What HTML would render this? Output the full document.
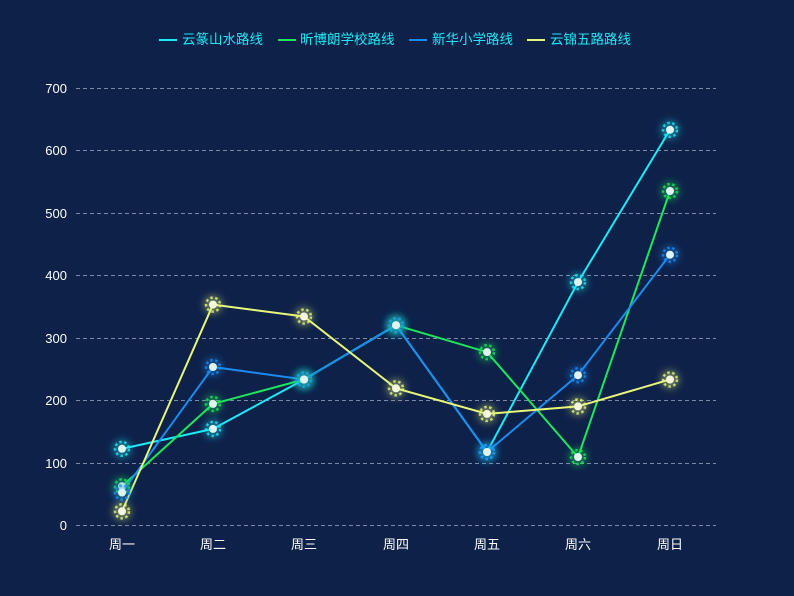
<!DOCTYPE html>
<html><head><meta charset="utf-8"><style>
html,body{margin:0;padding:0;background:#0e2149;}
svg{display:block;font-family:"Liberation Sans","Noto Sans CJK SC",sans-serif;}
</style></head><body>
<svg width="794" height="596" viewBox="0 0 794 596" xmlns="http://www.w3.org/2000/svg">
<defs>
<filter id="b" x="-2" y="-2" width="5" height="5"><feGaussianBlur stdDeviation="4"/></filter>
<g id="mc"><circle r="9" fill="#1de9f6" opacity="0.45" filter="url(#b)"/><circle r="7" fill="none" stroke="#1de9f6" stroke-width="2.5" stroke-dasharray="2.5,2.5" opacity="0.8"/><circle r="4" fill="#dff4f0"/></g>
<g id="mg"><circle r="9" fill="#1ce65a" opacity="0.45" filter="url(#b)"/><circle r="7" fill="none" stroke="#1ce65a" stroke-width="2.5" stroke-dasharray="2.5,2.5" opacity="0.8"/><circle r="4" fill="#dff4f0"/></g>
<g id="mb"><circle r="9" fill="#1a8cf0" opacity="0.45" filter="url(#b)"/><circle r="7" fill="none" stroke="#1a8cf0" stroke-width="2.5" stroke-dasharray="2.5,2.5" opacity="0.8"/><circle r="4" fill="#dff4f0"/></g>
<g id="my"><circle r="9" fill="#e6f77a" opacity="0.45" filter="url(#b)"/><circle r="7" fill="none" stroke="#e6f77a" stroke-width="2.5" stroke-dasharray="2.5,2.5" opacity="0.8"/><circle r="4" fill="#f4f7dc"/></g>
</defs>
<rect width="794" height="596" fill="#0e2149"/>
<g stroke="#7d8aa6" stroke-dasharray="4,3" stroke-width="1">
<line x1="76" x2="716" y1="88.5" y2="88.5"/><line x1="76" x2="716" y1="150.5" y2="150.5"/>
<line x1="76" x2="716" y1="213.5" y2="213.5"/><line x1="76" x2="716" y1="275.5" y2="275.5"/>
<line x1="76" x2="716" y1="338.5" y2="338.5"/><line x1="76" x2="716" y1="400.5" y2="400.5"/>
<line x1="76" x2="716" y1="463.5" y2="463.5"/><line x1="76" x2="716" y1="525.5" y2="525.5"/>
</g>
<g fill="#fff" font-size="13" text-anchor="end">
<text x="67" y="93">700</text><text x="67" y="155">600</text><text x="67" y="218">500</text>
<text x="67" y="280">400</text><text x="67" y="343">300</text><text x="67" y="405">200</text>
<text x="67" y="468">100</text><text x="67" y="530">0</text>
</g>
<g fill="#fff" font-size="13" text-anchor="middle">
<text x="122" y="549">周一</text><text x="213" y="549">周二</text><text x="304" y="549">周三</text>
<text x="396" y="549">周四</text><text x="487" y="549">周五</text><text x="578" y="549">周六</text><text x="670" y="549">周日</text>
</g>
<g font-size="13.5" fill="#1de9f6">
<line x1="159" x2="177" y1="40" y2="40" stroke="#1de9f6" stroke-width="2"/><text x="182" y="44">云篆山水路线</text>
<line x1="278" x2="296" y1="40" y2="40" stroke="#1ce65a" stroke-width="2"/><text x="300" y="44">昕博朗学校路线</text>
<line x1="409" x2="427" y1="40" y2="40" stroke="#1a8cf0" stroke-width="2"/><text x="432" y="44">新华小学路线</text>
<line x1="527" x2="545" y1="40" y2="40" stroke="#e6f77a" stroke-width="2"/><text x="550" y="44">云锦五路路线</text>
</g>
<g fill="none" stroke-width="2">
<polyline stroke="#1de9f6" points="122,448.8 213,428.9 304,379.5 396,325.2 487,452 578,282.1 670,129.8"/>
<polyline stroke="#1ce65a" points="122,486.3 213,403.9 304,379.5 396,325.2 487,352.1 578,457 670,191"/>
<polyline stroke="#1a8cf0" points="122,492.5 213,367 304,379.5 396,325.2 487,452 578,375.2 670,254.7"/>
<polyline stroke="#e6f77a" points="122,511.3 213,304.6 304,316.5 396,388.3 487,413.9 578,406.4 670,379.5"/>
</g>
<use href="#mc" x="122" y="448.8"/><use href="#mc" x="213" y="428.9"/><use href="#mc" x="304" y="379.5"/><use href="#mc" x="396" y="325.2"/><use href="#mc" x="487" y="452"/><use href="#mc" x="578" y="282.1"/><use href="#mc" x="670" y="129.8"/>
<use href="#mg" x="122" y="486.3"/><use href="#mg" x="213" y="403.9"/><use href="#mg" x="304" y="379.5"/><use href="#mg" x="396" y="325.2"/><use href="#mg" x="487" y="352.1"/><use href="#mg" x="578" y="457"/><use href="#mg" x="670" y="191"/>
<use href="#mb" x="122" y="492.5"/><use href="#mb" x="213" y="367"/><use href="#mb" x="304" y="379.5"/><use href="#mb" x="396" y="325.2"/><use href="#mb" x="487" y="452"/><use href="#mb" x="578" y="375.2"/><use href="#mb" x="670" y="254.7"/>
<use href="#my" x="122" y="511.3"/><use href="#my" x="213" y="304.6"/><use href="#my" x="304" y="316.5"/><use href="#my" x="396" y="388.3"/><use href="#my" x="487" y="413.9"/><use href="#my" x="578" y="406.4"/><use href="#my" x="670" y="379.5"/>
</svg>
</body></html>
